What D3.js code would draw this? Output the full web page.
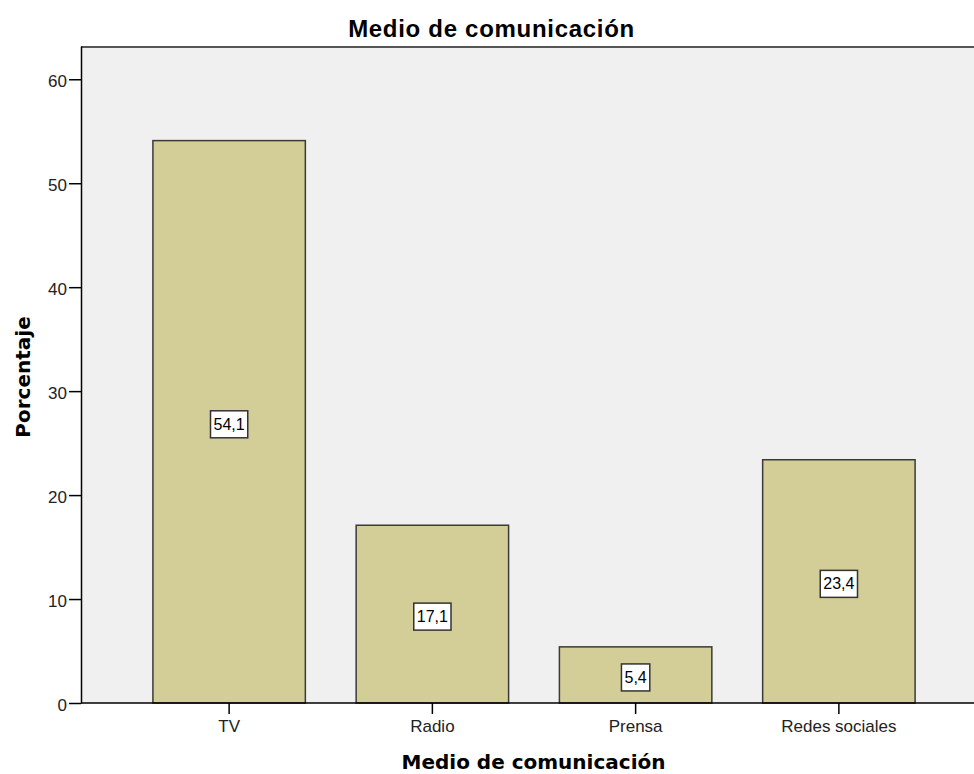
<!DOCTYPE html>
<html>
<head>
<meta charset="utf-8">
<script src="https://cdn.jsdelivr.net/npm/d3@7"></script>
<style>
  body { margin: 0; background: #fff; }
  svg text { font-family: "Liberation Sans", Arial, sans-serif; }
</style>
</head>
<body>
<div id="main"></div>
<script>
const categories = ["TV", "Radio", "Prensa", "Redes sociales"];
const percents = [54.1, 17.1, 5.4, 23.4];
const yTicks = [0, 10, 20, 30, 40, 50, 60];

const ctx = {
    W: 974,
    H: 774,
    left: 81,
    top: 47,
    bottom: 703
};

function fmt(v){ return v.toFixed(1).replace(".", ","); }

function drawChart(){
    let svg = d3.select("#main").append("svg")
        .attr("width", ctx.W).attr("height", ctx.H);

    let y = d3.scaleLinear().domain([0, 63.2]).range([ctx.bottom, 46]);
    let x = d3.scaleBand().domain(categories).range([127.5, 940.5])
        .paddingInner(0.25).paddingOuter(0.125);

    // plot background
    svg.append("rect")
        .attr("x", ctx.left).attr("y", ctx.top)
        .attr("width", ctx.W - ctx.left + 5).attr("height", ctx.bottom - ctx.top)
        .attr("fill", "#f0f0f0");
    svg.append("line")
        .attr("x1", ctx.left).attr("x2", ctx.W)
        .attr("y1", ctx.top).attr("y2", ctx.top)
        .attr("stroke", "#555").attr("stroke-width", 2);

    // bars
    svg.append("g").selectAll("rect")
        .data(percents)
        .join("rect")
        .attr("x", (d, i) => x(categories[i]))
        .attr("y", d => y(d))
        .attr("width", x.bandwidth())
        .attr("height", d => y(0) - y(d))
        .attr("fill", "#d3ce97")
        .attr("stroke", "#3a3a3a")
        .attr("stroke-width", 1.5);

    // value labels
    let lab = svg.append("g").selectAll("g")
        .data(percents)
        .join("g")
        .attr("transform", (d, i) => `translate(${x(categories[i]) + x.bandwidth()/2},${(y(d) + y(0))/2 + 2})`);
    let boxes = lab.append("rect")
        .attr("fill", "#fff").attr("stroke", "#333").attr("stroke-width", 1.5);
    let txt = lab.append("text")
        .attr("text-anchor", "middle")
        .attr("dy", "0.36em")
        .style("font-size", "16px").attr("fill", "#000")
        .text(d => fmt(d));
    txt.each(function(d, i){
        let w = this.getBBox().width;
        d3.select(boxes.nodes()[i])
            .attr("x", -w/2 - 3).attr("y", -13)
            .attr("width", w + 6).attr("height", 27);
    });

    // y axis
    let ya = svg.append("g")
        .attr("transform", `translate(${ctx.left},0)`)
        .call(d3.axisLeft(y).tickValues(yTicks).tickSize(12).tickSizeOuter(0));
    ya.select(".domain").attr("stroke", "#000").attr("stroke-width", 1.5);
    ya.selectAll(".tick line").attr("stroke", "#000").attr("stroke-width", 1.5);
    ya.selectAll("text").style("font-size", "17px").attr("fill", "#222")
        .attr("x", -14).attr("dy", "0.42em");

    // x axis
    let xa = svg.append("g")
        .attr("transform", `translate(0,${ctx.bottom})`)
        .call(d3.axisBottom(x).tickSize(11).tickSizeOuter(0));
    xa.select(".domain").attr("stroke", "#000").attr("stroke-width", 1.5)
        .attr("d", `M${ctx.left},0H${ctx.W}`);
    xa.selectAll(".tick line").attr("stroke", "#000").attr("stroke-width", 1.5);
    xa.selectAll("text").style("font-size", "17px").attr("fill", "#222")
        .attr("y", 29).attr("dy", 0);

    // titles
    svg.append("text")
        .attr("x", 491.5).attr("y", 37)
        .attr("text-anchor", "middle")
        .style("font-size", "24px").style("font-weight", "bold")
        .style("letter-spacing", "0.7px")
        .text("Medio de comunicación");

    svg.append("text")
        .attr("x", 533.5).attr("y", 769)
        .attr("text-anchor", "middle")
        .style("font-family", "'DejaVu Sans', sans-serif")
        .style("font-size", "20px").style("font-weight", "bold")
        .text("Medio de comunicación");

    svg.append("text")
        .attr("transform", `translate(30,377) rotate(-90)`)
        .attr("text-anchor", "middle")
        .style("font-family", "'DejaVu Sans', sans-serif")
        .style("font-size", "20px").style("font-weight", "bold")
        .text("Porcentaje");
}

drawChart();
</script>
</body>
</html>
